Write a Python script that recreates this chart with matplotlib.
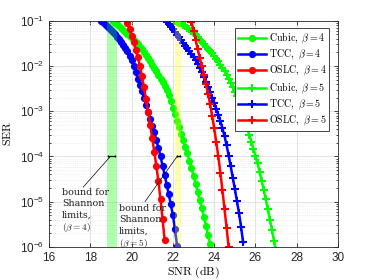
import numpy as np
import matplotlib
matplotlib.use("Agg")
import matplotlib.pyplot as plt
from matplotlib.font_manager import FontProperties
from matplotlib.ticker import LogLocator, NullFormatter

plt.rcParams['font.family'] = ['Liberation Sans', 'DejaVu Sans']

# ---------------- data (log10 SER on a 0.1 dB SNR grid) ----------------
snr_step = 0.1

cubic4_start = 19.1
cubic4_log = [-1.00, -1.04, -1.08, -1.12, -1.16, -1.20, -1.245, -1.29, -1.335, -1.38,
              -1.43, -1.475, -1.52, -1.57, -1.63, -1.69, -1.76, -1.83, -1.90, -1.97,
              -2.04, -2.12, -2.20, -2.28, -2.36, -2.45, -2.53, -2.65, -2.78, -2.92,
              -3.07, -3.21, -3.35, -3.50, -3.64, -3.79, -3.93, -4.09, -4.26, -4.43,
              -4.61, -4.79, -4.97, -5.15, -5.34, -5.53, -5.73, -5.93, -6.13]

tcc4_start = 18.5
tcc4_log = [-1.00, -1.03, -1.07, -1.11, -1.15, -1.20, -1.25, -1.30, -1.35, -1.40,
            -1.46, -1.53, -1.60, -1.68, -1.77, -1.87, -2.00, -2.14, -2.28, -2.42,
            -2.56, -2.70, -2.87, -3.02, -3.17, -3.32, -3.47, -3.64, -3.81, -4.00,
            -4.20, -4.41, -4.62, -4.84, -5.06, -5.30, -5.60, -5.97]

oslc4_start = 19.8
oslc4_log = [-1.05, -1.19, -1.33, -1.48, -1.64, -1.81, -2.00, -2.22, -2.47, -2.74,
             -3.02, -3.30, -3.60, -3.90, -4.22, -4.55, -4.95, -5.38, -5.85]

cubic5_start = 22.1
cubic5_log = [-1.00, -1.02, -1.04, -1.06, -1.09, -1.12, -1.15, -1.19, -1.23, -1.27,
              -1.32, -1.37, -1.42, -1.47, -1.52, -1.57, -1.62, -1.67, -1.72, -1.78,
              -1.84, -1.90, -1.97, -2.04, -2.12, -2.20, -2.29, -2.38, -2.47, -2.57,
              -2.67, -2.79, -2.92, -3.06, -3.21, -3.37, -3.53, -3.68, -3.83, -3.98,
              -4.15, -4.34, -4.54, -4.74, -4.95, -5.17, -5.40, -5.63, -5.87, -6.10]

tcc5_start = 21.7
tcc5_log = [-1.02, -1.07, -1.13, -1.19, -1.25, -1.31, -1.37, -1.43, -1.49, -1.55,
            -1.61, -1.67, -1.74, -1.80, -1.87, -1.95, -2.04, -2.14, -2.24, -2.35,
            -2.46, -2.58, -2.70, -2.82, -2.95, -3.08, -3.22, -3.38, -3.55, -3.75,
            -3.98, -4.22, -4.47, -4.72, -4.98, -5.25, -5.55, -5.90]

oslc5_start = 22.9
oslc5_log = [-1.02, -1.22, -1.42, -1.62, -1.82, -2.01, -2.20, -2.40, -2.61, -2.84,
             -3.10, -3.38, -3.68, -4.00, -4.36, -4.75, -5.16, -5.58, -6.00]

shannon_bands = [(18.8, 19.3), (22.1, 22.4)]
band_colors = ['#00ff00', '#ffff00']

labels = [r'$\mathrm{Cubic},\ \beta=4$', r'$\mathrm{TCC},\ \beta=4$', r'$\mathrm{OSLC},\ \beta=4$',
          r'$\mathrm{Cubic},\ \beta=5$', r'$\mathrm{TCC},\ \beta=5$', r'$\mathrm{OSLC},\ \beta=5$']
colors = ['#00ff00', '#0000ff', '#ff0000', '#00ff00', '#0000ff', '#ff0000']
markers = ['o', 'o', 'o', '+', '+', '+']
series = [(cubic4_start, cubic4_log), (tcc4_start, tcc4_log), (oslc4_start, oslc4_log),
          (cubic5_start, cubic5_log), (tcc5_start, tcc5_log), (oslc5_start, oslc5_log)]

xticks = [16, 18, 20, 22, 24, 26, 28, 30]

# ---------------- figure ----------------
fig = plt.figure(figsize=(3.74, 2.80), dpi=100)
ax = fig.add_axes([0.131, 0.118, 0.773, 0.808])

for (start, logs), lab, c, m in zip(series, labels, colors, markers):
    snr = start + snr_step * np.arange(len(logs))
    ser = 10.0 ** np.array(logs)
    if m == 'o':
        ax.semilogy(snr, ser, color=c, marker='o', ms=4.2, lw=1.8, label=lab, zorder=2)
    else:
        ax.semilogy(snr, ser, color=c, marker='+', ms=5.5, mew=1.5, lw=1.8, label=lab, zorder=2)

for (a, b), c in zip(shannon_bands, band_colors):
    ax.axvspan(a, b, color=c, alpha=0.32, lw=0, zorder=3)
    ax.plot([a + 0.08, b - 0.08], [1e-4, 1e-4], color='k', lw=0.9, zorder=4)
    ax.plot([a + 0.08, b - 0.08], [1e-4, 1e-4], color='k', lw=0, marker='|', ms=2.0, mew=0.9, zorder=4)

ann_font = FontProperties(family='DejaVu Serif', size=6.8, math_fontfamily='cm')
ax.text(16.62, 10 ** -4.7, 'bound for\nShannon\nlimits,\n' + r'$(\beta=4)$',
        fontproperties=ann_font, va='top', ha='left', linespacing=1.3, color='#222222')
ax.annotate('', xy=(18.97, 1e-4), xytext=(17.65, 10 ** -4.68),
            arrowprops=dict(arrowstyle='-', lw=0.5, color='k', shrinkA=0, shrinkB=0))
ax.text(19.38, 10 ** -5.05, 'bound for\nShannon\nlimits,\n' + r'$(\beta=5)$',
        fontproperties=ann_font, va='top', ha='left', linespacing=1.3, color='#222222')
ax.annotate('', xy=(22.2, 1e-4), xytext=(20.65, 10 ** -5.0),
            arrowprops=dict(arrowstyle='-', lw=0.5, color='k', shrinkA=0, shrinkB=0))

ax.set_xlim(16, 30)
ax.set_ylim(1e-6, 1e-1)
ax.set_xticks(xticks)
ax.yaxis.set_major_locator(LogLocator(base=10, numticks=10))
ax.yaxis.set_minor_locator(LogLocator(base=10, subs=np.arange(2, 10), numticks=20))
ax.yaxis.set_minor_formatter(NullFormatter())

ax.grid(True, which='major', color='#dddddd', lw=0.6, ls='-')
ax.grid(True, which='minor', axis='y', color='#e4e4e4', lw=0.5, ls=':')
ax.set_axisbelow(True)

ax.tick_params(which='both', direction='in', top=True, right=True, colors='#262626',
               labelsize=8.5, width=0.6)
ax.tick_params(which='major', length=3)
ax.tick_params(which='minor', length=1.5)
for s in ax.spines.values():
    s.set_color('#262626')
    s.set_linewidth(0.6)

lab_font = FontProperties(family='DejaVu Serif', size=8.5, math_fontfamily='cm')
ax.set_xlabel(r'$\mathrm{SNR\ (dB)}$', fontproperties=lab_font, labelpad=1)
ax.set_ylabel(r'$\mathrm{SER}$', fontproperties=lab_font, labelpad=4)

leg_font = FontProperties(family='DejaVu Serif', size=7.2, math_fontfamily='cm')
leg = ax.legend(loc='upper right', bbox_to_anchor=(0.97, 0.97), prop=leg_font,
                fancybox=False, framealpha=1, edgecolor='#262626', borderpad=0.3,
                labelspacing=0.2, handlelength=2.8, handletextpad=0.3, borderaxespad=0)
leg.get_frame().set_linewidth(0.6)

fig.savefig('out.png', dpi=100)
